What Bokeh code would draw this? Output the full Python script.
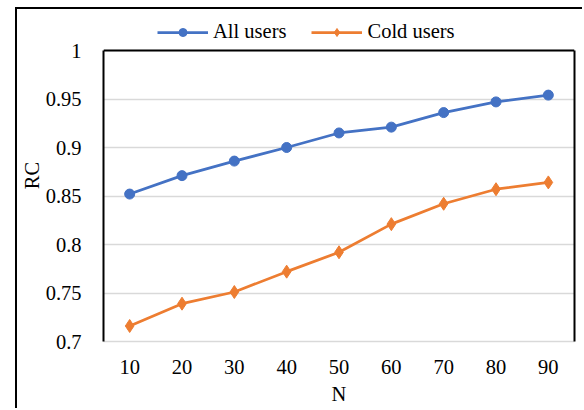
from bokeh.plotting import figure
from bokeh.models import (FixedTicker, CustomJSTickFormatter, LinearAxis, Legend,
                          LegendItem, Range1d, Span)
from bokeh.embed import file_html
from bokeh.resources import INLINE

# Recommendation coverage vs. list size N
n_values = ["10", "20", "30", "40", "50", "60", "70", "80", "90"]
all_users = [0.852, 0.871, 0.886, 0.900, 0.915, 0.921, 0.936, 0.947, 0.954]
cold_users = [0.716, 0.739, 0.751, 0.772, 0.792, 0.821, 0.842, 0.857, 0.864]
y_ticks = [0.7, 0.75, 0.8, 0.85, 0.9, 0.95, 1.0]
y_min, y_max = 0.7, 1.0

FONT = "Liberation Serif"
FSIZE = "20.5px"
BLUE = "#4472C4"
ORANGE = "#ED7D31"
GRID = "#D9D9D9"

# plot-area geometry (pixels): the frame reaches up to the canvas top so the
# legend row above the value axis is drawn inside it
PLOT_H = 291          # height of the 0.7 .. 1.0 band
HEADROOM = 41         # legend strip above the 1.0 line
top_pad = (y_max - y_min) * HEADROOM / PLOT_H

p = figure(
    width=567, height=401,
    x_range=n_values, y_range=Range1d(y_min, y_max + top_pad),
    output_backend="svg", toolbar_location=None,
    min_border_left=86, min_border_right=10,
    min_border_top=0, min_border_bottom=69,
)
# outer chart border (only its left and top edges fall inside the page)
p.styles = {
    "border-left": "2px solid black",
    "border-top": "2px solid black",
    "margin-left": "15px",
    "margin-top": "7px",
}
p.outline_line_color = None
p.background_fill_color = "white"
p.border_fill_color = "white"

r_all = p.line(n_values, all_users, line_color=BLUE, line_width=2.75)
s_all = p.scatter(n_values, all_users, marker="circle", size=10,
                  fill_color=BLUE, line_color=BLUE)
r_cold = p.line(n_values, cold_users, line_color=ORANGE, line_width=2.75)
s_cold = p.scatter(n_values, cold_users, marker="diamond", size=13,
                   fill_color=ORANGE, line_color=ORANGE)

# grid and axes
p.xgrid.grid_line_color = None
p.ygrid.grid_line_color = GRID
p.ygrid.grid_line_width = 1.5
p.yaxis.ticker = FixedTicker(ticks=y_ticks)
p.ygrid.ticker = FixedTicker(ticks=y_ticks)
p.yaxis.formatter = CustomJSTickFormatter(
    code="return String(Math.round(tick * 100) / 100);")

for ax in (p.xaxis[0], p.yaxis[0]):
    ax.major_tick_line_color = None
    ax.minor_tick_line_color = None
    ax.major_label_text_font = FONT
    ax.major_label_text_font_size = FSIZE
    ax.major_label_text_color = "black"
    ax.axis_label_text_font = FONT
    ax.axis_label_text_font_size = FSIZE
    ax.axis_label_text_font_style = "normal"
    ax.axis_label_text_color = "black"

p.yaxis.bounds = (y_min, y_max)
p.yaxis.axis_line_color = "black"
p.yaxis.axis_line_width = 2
p.yaxis.major_label_standoff = 16
p.yaxis.axis_label = "RC"
p.yaxis.axis_label_standoff = 0

p.xaxis.axis_line_color = GRID
p.xaxis.axis_line_width = 1.5
p.xaxis.major_label_standoff = 12
p.xaxis.axis_label = "N"
p.xaxis.axis_label_standoff = 6

# top and right edges of the plot area
right_edge = LinearAxis(bounds=(y_min, y_max), axis_line_color="black", axis_line_width=2,
                        major_tick_line_color=None, minor_tick_line_color=None,
                        major_label_text_font_size="0px", major_label_text_color=None)
p.add_layout(right_edge, "right")
p.add_layout(Span(location=y_max, dimension="width", line_color="black", line_width=2))

legend = Legend(
    items=[LegendItem(label="All users", renderers=[r_all, s_all]),
           LegendItem(label="Cold users", renderers=[r_cold, s_cold])],
    orientation="horizontal", location=(54, 298),
    glyph_width=51, glyph_height=20, label_standoff=5, spacing=25,
    padding=0, margin=0, border_line_color=None, background_fill_alpha=0,
    label_text_font=FONT, label_text_font_size=FSIZE, label_text_color="black",
)
p.add_layout(legend, "center")

open("out.html", "w").write(file_html(p, INLINE))
